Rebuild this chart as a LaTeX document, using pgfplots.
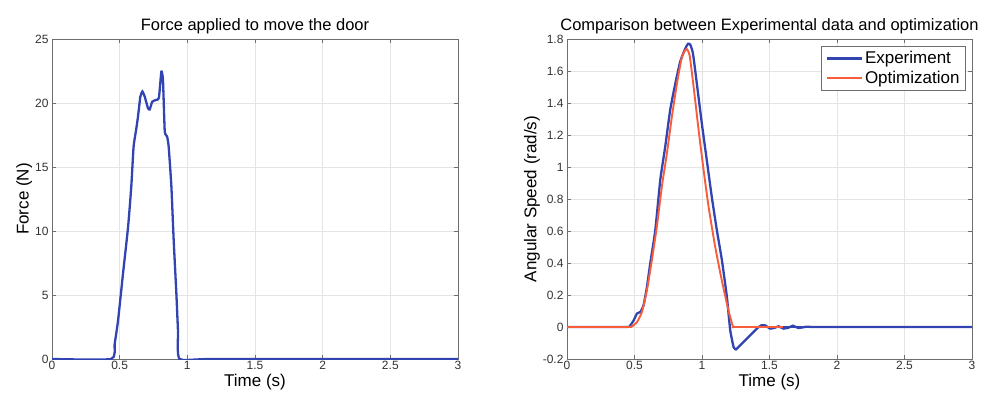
\documentclass[border=0pt]{standalone}
\usepackage{pgfplots}
\pgfplotsset{compat=1.18}
\usepackage{fontspec}
\setmainfont{Liberation Sans}
\definecolor{expblue}{RGB}{50,68,178}
\definecolor{optorange}{RGB}{248,92,58}
\definecolor{axgray}{RGB}{110,110,110}
\definecolor{gridgray}{RGB}{228,228,228}
\pgfplotsset{
  myax/.style={
    scale only axis,
    height=320pt,
    xmin=0, xmax=3,
    xtick={0,0.5,...,3},
    axis line style={axgray, line width=0.8pt},
    tick style={axgray, line width=0.6pt},
    tick align=inside,
    major tick length=4pt,
    grid=major,
    major grid style={gridgray, line width=0.6pt},
    tick label style={font=\fontsize{12}{14}\selectfont, text=black!80},
    label style={font=\fontsize{17}{19}\selectfont},
    title style={font=\fontsize{16.5}{19}\selectfont, yshift=-4pt},
    /pgf/number format/assume math mode=true,
    xticklabel style={yshift=1pt},
    xlabel style={yshift=3pt},
    ylabel style={yshift=-4pt},
    anchor=south west,
  }
}
\begin{document}
\begin{tikzpicture}
\useasboundingbox (0,0) rectangle (991pt,394pt);
\begin{axis}[myax,
  at={(52pt,35pt)}, width=406pt,
  ymin=0, ymax=25, ytick={0,5,...,25},
  title={Force applied to move the door},
  xlabel={Time (s)}, ylabel={Force (N)},
]
\addplot[expblue, line width=2.3pt, smooth, tension=0.3] coordinates {
(0,0) (0.438,0) (0.463,1.2) (0.488,3.0) (0.525,6.7) (0.562,10.3) (0.586,13.5)
(0.603,16.6) (0.623,18.0) (0.635,18.9) (0.653,20.5) (0.668,20.9) (0.685,20.5)
(0.709,19.6) (0.722,19.5) (0.741,20.1) (0.771,20.25) (0.79,20.4) (0.808,22.45)
(0.820,21.8) (0.833,17.8) (0.850,17.4) (0.862,16.6) (0.882,13.5) (0.899,9.3)
(0.919,5.1) (0.931,2.2) (0.943,0) (1.2,0) (3,0)
};
\end{axis}
\begin{axis}[myax,
  at={(567pt,35pt)}, width=405pt,
  ymin=-0.2, ymax=1.8, ytick={-0.2,0,0.2,...,1.8},
  yticklabels={-0.2,0,0.2,0.4,0.6,0.8,1,1.2,1.4,1.6,1.8},
  title={Comparison between Experimental data and optimization},
  xlabel={Time (s)}, ylabel={Angular Speed (rad/s)},
  legend style={at={(0.985,0.978)}, anchor=north east, draw=axgray, line width=0.9pt,
    font=\fontsize{17}{19}\selectfont, inner xsep=4pt, inner ysep=3pt, row sep=2pt,
    cells={anchor=west}},
  legend image code/.code={\draw[#1] (0pt,0pt) -- (35pt,0pt);},
]
\addplot[expblue, line width=2.3pt, smooth, tension=0.3] coordinates {
(0,0) (0.44,0) (0.469,0.01) (0.493,0.04) (0.518,0.084) (0.543,0.094) (0.567,0.136)
(0.592,0.25) (0.617,0.40) (0.654,0.605) (0.691,0.92) (0.728,1.13) (0.765,1.36)
(0.802,1.52) (0.839,1.66) (0.876,1.74) (0.896,1.77) (0.913,1.765) (0.933,1.71)
(0.962,1.52) (0.999,1.27) (1.036,1.04) (1.073,0.81) (1.110,0.605) (1.147,0.42)
(1.184,0.19) (1.209,-0.02) (1.234,-0.125) (1.251,-0.14) (1.271,-0.125)
(1.295,-0.104) (1.332,-0.073) (1.369,-0.042) (1.406,-0.01) (1.438,0.01)
(1.468,0.01) (1.505,-0.01) (1.542,-0.004) (1.567,0.004) (1.604,-0.01)
(1.641,-0.004) (1.673,0.008) (1.715,-0.006) (1.776,0.002) (1.826,0) (2.2,0) (3,0)
};
\addlegendentry{Experiment}
\addplot[optorange, line width=1.9pt, smooth, tension=0.3] coordinates {
(0,0) (0.45,0) (0.481,0.004) (0.518,0.03) (0.555,0.094) (0.592,0.23) (0.629,0.42)
(0.666,0.63) (0.703,0.88) (0.740,1.085) (0.777,1.315) (0.814,1.52) (0.851,1.69)
(0.876,1.73) (0.888,1.737) (0.908,1.70) (0.938,1.50) (0.975,1.23) (1.012,0.98)
(1.049,0.75) (1.098,0.50) (1.147,0.29) (1.197,0.10) (1.229,0.004) (1.246,0)
(1.6,0)
};
\addlegendentry{Optimization}
\addplot[expblue, line width=2.3pt, forget plot] coordinates {(1.6,0) (3,0)};
\end{axis}
\end{tikzpicture}
\end{document}
